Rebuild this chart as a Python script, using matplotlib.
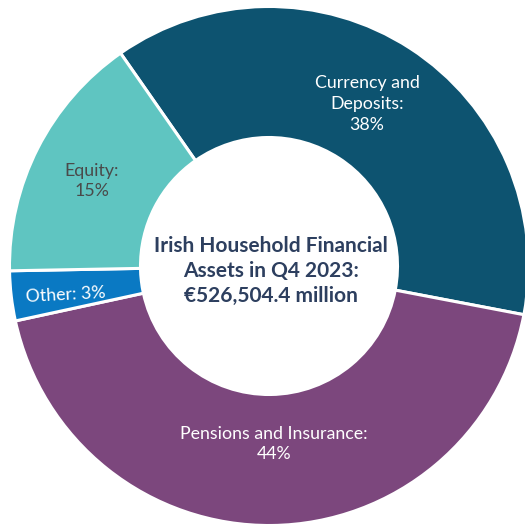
import numpy as np
import matplotlib.pyplot as plt

plt.rcParams['font.family'] = ['Lato', 'DejaVu Sans']

# Data
categories = ['Currency and\nDeposits:', 'Pensions and Insurance:', 'Other:', 'Equity:']
shares = [37.7, 43.6, 3.1, 15.6]
share_labels = ['38%', '44%', '3%', '15%']
colors = ['#0d5370', '#7c477d', '#0a79c3', '#5fc5c1']
centre_text = 'Irish Household Financial\nAssets in Q4 2023:\n€526,504.4 million'

fig = plt.figure(figsize=(5.25, 5.26), dpi=100)
ax = fig.add_axes([0, 0, 1, 1])

cx, cy, R = 269, 260, 259.5
r_in = 128.5
ax.pie(shares, colors=colors, startangle=124.9, counterclock=False,
       center=(cx, cy), radius=R,
       wedgeprops=dict(width=R - r_in, edgecolor='white', linewidth=2.2))
ax.set_xlim(0, 525)
ax.set_ylim(0, 526)
ax.set_aspect('equal')
ax.axis('off')

# labels
ax.text(367, 526 - 104, categories[0] + '\n' + share_labels[0], color='white',
        fontsize=12.8, ha='center', va='center', linespacing=1.35)
ax.text(274, 526 - 444, categories[1] + '\n' + share_labels[1], color='white',
        fontsize=12.8, ha='center', va='center', linespacing=1.35)
ax.text(66, 526 - 295, categories[2] + ' ' + share_labels[2], color='white',
        fontsize=12.8, ha='center', va='center', rotation=3)
ax.text(92, 526 - 181, categories[3] + '\n' + share_labels[3], color='#4a4a4a',
        fontsize=12.8, ha='center', va='center', linespacing=1.35)

ax.text(cx + 2, 526 - 271, centre_text, color='#2d3f5f', fontsize=15,
        fontweight='bold', ha='center', va='center', linespacing=1.3)

fig.savefig('out.png', dpi=100)
